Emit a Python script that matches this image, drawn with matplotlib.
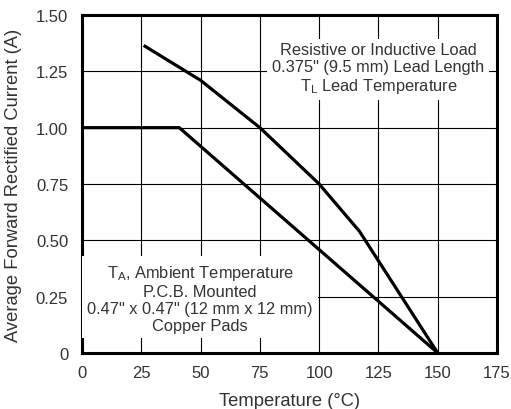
import numpy as np
import matplotlib
matplotlib.use("Agg")
from matplotlib import pyplot as plt

plt.rcParams['font.family'] = ['Liberation Sans', 'DejaVu Sans']
plt.rcParams['mathtext.fontset'] = 'custom'
plt.rcParams['mathtext.rm'] = 'Liberation Sans'

# Derating curves: lead temperature (upper) and ambient, PCB mounted (lower)
lead_temp = [26, 50, 75, 100, 117, 150]
lead_current = [1.365, 1.21, 1.00, 0.75, 0.54, 0.0]
amb_temp = [0, 41, 150]
amb_current = [1.00, 1.00, 0.0]

x_ticks = [0, 25, 50, 75, 100, 125, 150, 175]
y_ticks = [0, 0.25, 0.50, 0.75, 1.00, 1.25, 1.50]
y_labels = ["0", "0.25", "0.50", "0.75", "1.00", "1.25", "1.50"]

txt = "#333333"

fig = plt.figure(figsize=(5.11, 4.10), dpi=100)
ax = fig.add_axes([0.1605, 0.1366, 0.8121, 0.8244])

ax.plot(lead_temp, lead_current, color="black", lw=2.3, solid_capstyle="butt", zorder=4)
ax.plot(amb_temp, amb_current, color="black", lw=2.3, solid_capstyle="butt", zorder=4)

ax.set_xlim(0, 175)
ax.set_ylim(0, 1.5)
ax.set_xticks(x_ticks)
ax.set_yticks(y_ticks)
ax.set_yticklabels(y_labels)
ax.tick_params(length=0, labelsize=12, colors=txt)
ax.tick_params(axis="x", pad=9)
ax.tick_params(axis="y", pad=10)
ax.grid(True, color="black", lw=0.8)
ax.set_axisbelow(True)
for s in ax.spines.values():
    s.set_linewidth(2.2)

ax.set_xlabel("Temperature (°C)", fontsize=13.2, color=txt, labelpad=8)
ax.set_ylabel("Average Forward Rectified Current (A)", fontsize=13.2, color=txt, labelpad=10)

box = dict(facecolor="white", edgecolor="none", pad=3.5)
ax.text(125, 1.262, "Resistive or Inductive Load\n0.375\" (9.5 mm) Lead Length\n$\\mathregular{T_L}$ Lead Temperature",
        ha="center", va="center", fontsize=11.8, color=txt, linespacing=1.18, bbox=box, zorder=3)
ax.text(49.8, 0.245, "$\\mathregular{T_A}$, Ambient Temperature\nP.C.B. Mounted\n0.47\" x 0.47\" (12 mm x 12 mm)\nCopper Pads",
        ha="center", va="center", fontsize=11.8, color=txt, linespacing=1.18, bbox=box, zorder=3)

fig.savefig("out.png", dpi=100)
